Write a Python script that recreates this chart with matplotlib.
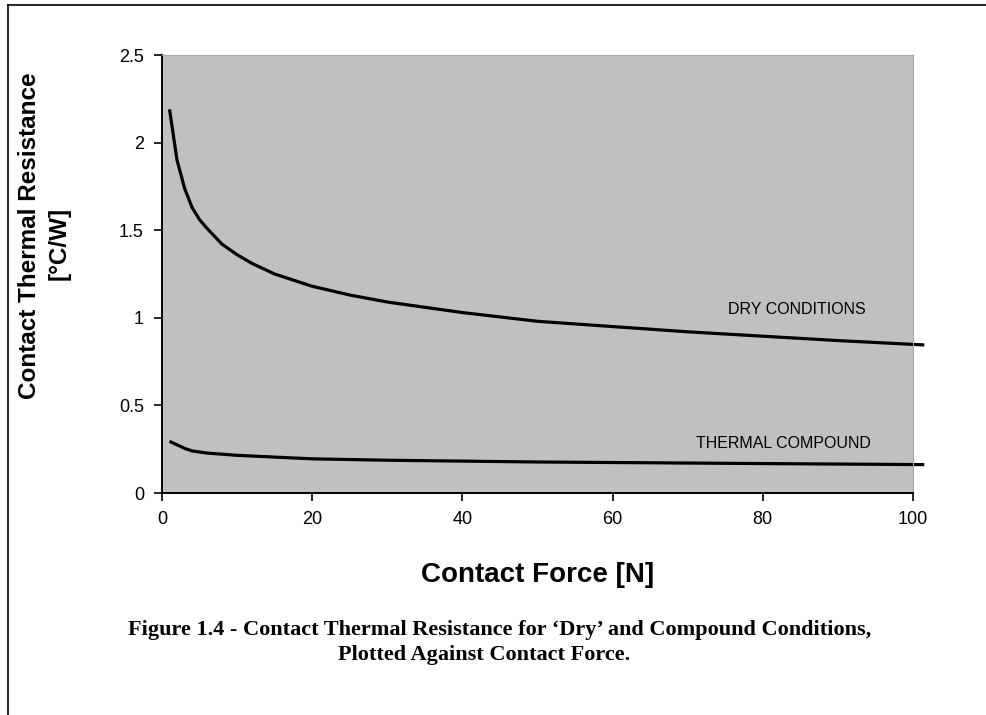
import matplotlib
matplotlib.use("Agg")
import matplotlib.pyplot as plt
from matplotlib.lines import Line2D

# ---- data -----------------------------------------------------------------
dry_force = [1, 2, 3, 4, 5, 6, 8, 10, 12, 15, 20, 25, 30, 35, 40, 50, 60, 70, 80, 90, 101.5]
dry_res = [2.19, 1.90, 1.74, 1.63, 1.56, 1.51, 1.42, 1.36, 1.31, 1.25, 1.18, 1.13,
           1.09, 1.06, 1.03, 0.98, 0.95, 0.92, 0.895, 0.87, 0.845]
comp_force = [1, 2, 3, 4, 6, 10, 15, 20, 30, 40, 50, 60, 80, 101.5]
comp_res = [0.295, 0.275, 0.255, 0.24, 0.228, 0.215, 0.205, 0.195, 0.187, 0.182,
            0.177, 0.174, 0.168, 0.162]
x_ticks = [0, 20, 40, 60, 80, 100]
y_ticks = [0, 0.5, 1, 1.5, 2, 2.5]
y_tick_labels = ["0", "0.5", "1", "1.5", "2", "2.5"]

SANS = ["Liberation Sans", "Arial", "DejaVu Sans"]
SERIF = ["Liberation Serif", "Times New Roman", "DejaVu Serif"]
GRAY = "#c0c0c0"

W, H = 987, 715
fig = plt.figure(figsize=(W / 100, H / 100), dpi=100)
fig.patch.set_facecolor("white")
ax = fig.add_axes([162 / W, 1 - 493 / H, (913 - 162) / W, (493 - 55) / H])
ax.set_facecolor(GRAY)

ax.plot(dry_force, dry_res, color="black", lw=2.3, clip_on=False, solid_capstyle="butt")
ax.plot(comp_force, comp_res, color="black", lw=2.3, clip_on=False, solid_capstyle="butt")

ax.set_xlim(0, 100)
ax.set_ylim(0, 2.5)
ax.set_xticks(x_ticks)
ax.set_yticks(y_ticks)
ax.set_yticklabels(y_tick_labels)
for lbl in ax.get_xticklabels() + ax.get_yticklabels():
    lbl.set_family(SANS)
    lbl.set_fontsize(13)
ax.tick_params(axis="both", direction="out", length=6, width=1.2, color="black", pad=7)

for s in ("left", "bottom"):
    ax.spines[s].set_color("black")
    ax.spines[s].set_linewidth(1.4)
for s in ("top", "right"):
    ax.spines[s].set_color("#a8a8a8")
    ax.spines[s].set_linewidth(0.8)

ax.text(0.754, 0.419, "DRY CONDITIONS", transform=ax.transAxes, ha="left", va="center",
        fontsize=11.5, family=SANS)
ax.text(0.711, 0.114, "THERMAL COMPOUND", transform=ax.transAxes, ha="left", va="center",
        fontsize=11.5, family=SANS)

# axis titles
fig.text(30 / W, 1 - 236 / H, "Contact Thermal Resistance", rotation=90, ha="center",
         va="center", fontsize=17.5, fontweight="bold", family=SANS)
fig.text(59 / W, 1 - 243 / H, "[°C/W]", rotation=90, ha="center", va="center",
         fontsize=17.5, fontweight="bold", family=SANS)
fig.text(538 / W, 1 - 575 / H, "Contact Force [N]", ha="center", va="center",
         fontsize=20, fontweight="bold", family=SANS)

# caption
fig.text(500 / W, 1 - 630 / H,
         "Figure 1.4 - Contact Thermal Resistance for \u2018Dry\u2019 and Compound Conditions,",
         ha="center", va="center", fontsize=16, fontweight="bold", family=SERIF)
fig.text(484 / W, 1 - 655 / H, "Plotted Against Contact Force.",
         ha="center", va="center", fontsize=16, fontweight="bold", family=SERIF)

# page frame (top and left edges)
fig.add_artist(Line2D([8 / W, 1], [1 - 5 / H, 1 - 5 / H], transform=fig.transFigure,
                      color="black", lw=1.2))
fig.add_artist(Line2D([8 / W, 8 / W], [0, 1 - 5 / H], transform=fig.transFigure,
                      color="black", lw=1.2))

fig.savefig("out.png", dpi=100, facecolor="white")
